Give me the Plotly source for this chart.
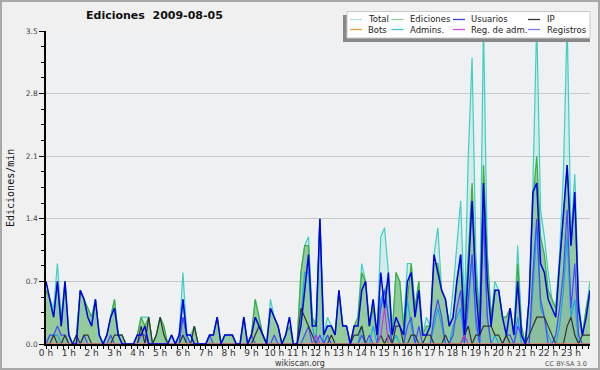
import plotly.graph_objects as go

# ---- data: 10-minute bins, edits per minute ----
total = [.7,.5,.4,.9,.3,.7,.1,0,.1,.6,
         .5,.4,.3,.5,.1,0,.1,.3,.5,.1,
         .1,0,0,0,.1,.3,.3,.3,0,.1,
         .3,.2,0,.1,0,.1,.8,.1,.1,.2,
         0,0,0,.1,.1,.3,0,.1,.1,.1,
         0,0,.3,0,.1,.5,.3,.1,0,.5,
         .3,.2,0,.1,.3,0,0,.8,1.1,1.2,
         .3,.2,1.4,.1,.3,.2,.1,.6,.2,.2,
         0,.2,.3,.9,.7,.2,.5,.1,1.2,1.3,
         .8,.1,.8,.7,.2,.9,.9,.4,.7,.1,
         .3,.2,1.0,1.3,.6,.5,.2,.6,1.1,1.6,
         .4,2.1,3.2,1.0,.3,3.6,1.0,.3,.7,.6,
         .3,.3,.4,.1,1.1,.2,0,.5,1.8,3.6,
         1.5,1.2,.8,.5,.4,1.0,1.9,3.6,1.2,1.9,
         .5,.1,.4,.7]
ediciones = [.6,.5,.3,.7,.2,.7,.1,0,.1,.6,
             .5,.4,.3,.5,.1,0,.1,.3,.5,.1,
             .1,0,0,0,.1,.3,.2,.3,0,.1,
             .3,.2,0,0,0,.1,.3,.1,0,.2,
             0,0,0,.1,.1,.3,0,.1,.1,.1,
             0,0,.3,0,.1,.5,.3,.1,0,.4,
             .3,.2,0,.1,.2,0,0,.8,1.1,1.1,
             .3,.2,1.4,.1,.2,.2,.1,.6,.2,.2,
             0,.2,.3,.8,.7,.2,.4,.1,.5,.6,
             .7,.1,.8,.7,.2,.5,.9,.4,.7,.1,
             .2,.2,.9,.9,.6,.5,.2,.3,.7,1.0,
             .3,1.0,1.8,.8,.3,2.0,1.0,.3,.6,.6,
             .3,.3,.4,.1,.9,.2,0,.5,1.6,2.1,
             1.2,1.0,.6,.5,.4,.9,1.4,2.0,1.1,1.6,
             .4,.1,.4,.6]
usuarios = [.7,.5,.3,.7,.2,.7,.1,0,0,.6,
            .5,.3,.2,.5,.1,0,.1,.3,.4,.1,
            0,0,0,0,.1,.1,.2,0,0,0,
            0,0,0,.1,0,.1,.5,.1,.1,0,
            0,0,0,.1,.1,.3,0,.1,.1,.1,
            0,0,.3,0,.1,.3,.2,.1,0,.4,
            .3,.2,0,.1,.3,0,0,.2,.6,1.0,
            .2,.2,1.4,.1,.2,.2,.1,.6,.2,.2,
            0,.2,.2,.6,.7,.2,.5,.1,.8,.4,
            .8,.1,.3,.2,.1,.7,.8,.3,.6,.1,
            .1,.2,1.0,.8,.6,.5,.2,.3,.7,1.0,
            .1,.8,1.6,.6,.1,1.8,.7,.2,.6,.6,
            .3,.1,.4,.1,.7,.1,0,.5,1.7,1.8,
            .9,.8,.5,.4,.3,.9,1.5,2.0,1.1,1.7,
            .4,.1,.3,.6]
ip = [0,0,.1,0,0,.1,0,0,.1,0,
      .1,.1,0,0,0,0,0,0,.1,.1,
      .1,0,0,0,0,.2,0,.3,0,.1,
      .3,.1,0,0,0,0,.1,0,0,.2,
      0,0,0,0,0,0,0,0,0,0,
      0,0,0,0,0,.1,.2,.1,0,0,
      0,0,0,0,0,0,0,.4,.3,.2,
      .1,0,0,0,0,.1,0,0,0,0,
      0,.1,.1,.2,0,0,0,0,.1,0,
      .1,0,.2,.2,0,0,.1,.1,0,0,
      .1,.1,0,0,0,.1,0,0,0,0,
      .1,.2,0,.1,.1,.2,.2,.2,.1,.1,
      0,.1,0,0,0,0,0,.1,.2,.3,
      .3,.3,.2,.1,0,0,0,.2,.3,.1,
      0,.1,.1,.1]
bots = [0] * 144
admins = [0,.1,.1,.1,0,0,0,0,0,0,
          0,0,0,0,0,0,0,0,0,0,
          0,0,0,0,0,0,0,0,0,0,
          0,0,0,0,0,0,.5,0,0,0,
          0,0,0,0,0,0,0,0,0,0,
          0,0,0,0,0,0,0,0,0,0,
          0,0,0,0,0,0,0,.3,.8,.8,
          .2,0,1.4,0,.1,0,0,0,0,0,
          0,0,0,.2,0,0,.2,0,.5,.6,
          .3,0,.1,0,0,.5,.2,0,0,0,
          0,0,.2,.4,.2,0,0,.2,.3,.4,
          0,.4,1.0,.2,0,1.5,.3,0,.1,0,
          0,0,0,0,.3,0,0,0,.6,1.3,
          .4,.3,.1,0,0,.2,.6,1.2,.3,.5,
          0,0,0,0]
reg_adm = [0] * 71 + [.1] + [0] * 16 + [.1, .4] + [0] * 20 + [.1] + [0] * 33
registros = [0,.1,.1,.2,.1,.1,0,0,0,0,
             .1,0,0,0,0,0,0,.1,0,0,
             0,0,0,0,0,.1,.1,0,0,0,
             0,0,0,.1,0,0,.3,.1,0,0,
             0,0,0,.1,0,0,0,0,0,0,
             0,0,0,0,.1,0,0,0,0,0,
             .1,0,0,0,0,0,0,0,.1,.2,
             0,0,.1,0,.1,0,0,0,0,0,
             0,0,0,.1,0,.1,0,0,.4,.6,
             .3,0,0,0,0,.2,.3,0,.2,0,
             0,0,.3,.5,.3,0,0,.1,.4,.6,
             0,.5,1.0,.3,0,1.4,.3,0,0,0,
             0,.1,.1,0,.2,.1,0,0,.8,1.4,
             .5,.3,0,0,.1,.4,.8,1.5,.4,.9,
             .1,0,0,0]
hour_labels = [f"{h} h" for h in range(24)]
y_ticks = [0, 0.7, 1.4, 2.1, 2.8, 3.5]
y_tick_labels = ["0.0", "0.7", "1.4", "2.1", "2.8", "3.5"]
legend_rows = [["Total", "Ediciones", "Usuarios", "IP"],
               ["Bots", "Admins.", "Reg. de adm.", "Registros"]]

times = [i / 6 for i in range(len(total))]

# ---- pixel helpers (plot area 46..590 x 31..344) ----
L, R, T, B = 46, 590, 31, 344
def px(x):
    return (x - L) / (R - L)
def py(y):
    return (B - y) / (B - T)

line_colors = {
    "Total": "#3fcfc4", "Ediciones": "#3cae3c", "Usuarios": "#0000e8",
    "IP": "#333333", "Bots": "#ff9a30", "Admins.": "#1aa8e0",
    "Reg. de adm.": "#c838d8", "Registros": "#4848ff",
}
legend_colors = {
    "Total": "#b0e4e2", "Ediciones": "#8cd48c", "Usuarios": "#3c3cdc",
    "IP": "#333333", "Bots": "#f0a040", "Admins.": "#40c8d8",
    "Reg. de adm.": "#c850d8", "Registros": "#7c7cf0",
}
series = {
    "Total": total, "Ediciones": ediciones, "Usuarios": usuarios, "IP": ip,
    "Bots": bots, "Admins.": admins, "Reg. de adm.": reg_adm, "Registros": registros,
}

fig = go.Figure()

# fills first
fills = [("Total", "rgba(60,205,190,0.15)"),
         ("Ediciones", "rgba(70,165,60,0.45)"),
         ("Registros", "rgba(70,70,200,0.10)")]
for name, fc in fills:
    fig.add_trace(go.Scatter(x=times, y=series[name], mode="lines",
                             line=dict(width=0), fill="tozeroy", fillcolor=fc,
                             hoverinfo="skip", showlegend=False))

order = ["Total", "Ediciones", "Admins.", "Registros", "IP", "Reg. de adm.",
         "Bots", "Usuarios"]
widths = {"Usuarios": 1.5}
for name in order:
    fig.add_trace(go.Scatter(x=times, y=series[name], mode="lines", name=name,
                             line=dict(color=line_colors[name],
                                       width=widths.get(name, 1.2)),
                             showlegend=False))

shapes = []
annotations = []

# frame border
shapes.append(dict(type="rect", xref="paper", yref="paper",
                   x0=px(1), x1=px(599), y0=py(369), y1=py(1),
                   line=dict(color="#a8a8a8", width=2), layer="above"))
# legend box + shadow
shapes.append(dict(type="rect", xref="paper", yref="paper",
                   x0=px(343), x1=px(590), y0=py(42), y1=py(15),
                   fillcolor="#888888", line=dict(width=0), layer="above"))
shapes.append(dict(type="rect", xref="paper", yref="paper",
                   x0=px(347), x1=px(590), y0=py(38), y1=py(11.5),
                   fillcolor="white", line=dict(color="#c8c8c8", width=1),
                   layer="above"))
col_line_x = [350, 391.5, 453, 528]
col_text_x = [366, 408, 469, 545]
row_y = [19.5, 29.5]
for r, row in enumerate(legend_rows):
    for c, name in enumerate(row):
        shapes.append(dict(type="line", xref="paper", yref="paper",
                           x0=px(col_line_x[c]), x1=px(col_line_x[c] + 12),
                           y0=py(row_y[r]), y1=py(row_y[r]),
                           line=dict(color=legend_colors[name], width=1.3),
                           layer="above"))
        annotations.append(dict(text=name, xref="paper", yref="paper",
                                x=px(col_text_x[c]), y=py(row_y[r]),
                                xanchor="left", yanchor="middle", showarrow=False,
                                font=dict(family="DejaVu Sans", size=8.5,
                                          color="#222222")))

# title
annotations.append(dict(text="<b>Ediciones\u00a0\u00a02009-08-05</b>", xref="paper",
                        yref="paper", x=px(154), y=py(16), xanchor="center",
                        yanchor="middle", showarrow=False,
                        font=dict(family="DejaVu Sans", size=11, color="#111111")))
# y axis title
annotations.append(dict(text="Ediciones/min", xref="paper", yref="paper",
                        x=px(10), y=py(188), xanchor="center", yanchor="middle",
                        textangle=-90, showarrow=False,
                        font=dict(family="DejaVu Sans Mono", size=10,
                                  color="#111111")))
# footer
annotations.append(dict(text="wikiscan.org", xref="paper", yref="paper",
                        x=px(300), y=py(363.5), xanchor="center", yanchor="middle",
                        showarrow=False,
                        font=dict(family="DejaVu Sans", size=8, color="#333333")))
annotations.append(dict(text="CC BY-SA 3.0", xref="paper", yref="paper",
                        x=px(589), y=py(363.5), xanchor="right", yanchor="middle",
                        showarrow=False,
                        font=dict(family="DejaVu Sans", size=6.5, color="#555555")))

fig.update_layout(
    width=600, height=370,
    margin=dict(l=L, r=600 - R, t=T, b=370 - B, pad=0, autoexpand=False),
    paper_bgcolor="#f0f0f0", plot_bgcolor="#eef0f2",
    showlegend=False, shapes=shapes, annotations=annotations,
    font=dict(family="DejaVu Sans", color="#333333"),
)
fig.update_xaxes(
    range=[0, times[-1]], tickmode="array", tickvals=list(range(24)),
    ticktext=hour_labels, ticks="outside", ticklen=3, tickcolor="black",
    tickfont=dict(size=9, color="#333333"), ticklabelstandoff=-4,
    showline=True, linecolor="black", linewidth=2, showgrid=False,
    zeroline=False, automargin=False,
    minor=dict(tickmode="linear", tick0=0, dtick=0.25, ticklen=3,
               tickcolor="black", ticks="outside", showgrid=False),
)
fig.update_yaxes(
    range=[0, 3.5], tickmode="array", tickvals=y_ticks, ticktext=y_tick_labels,
    ticks="outside", ticklen=5, tickcolor="black",
    tickfont=dict(size=7.5, color="#444444"),
    showline=True, linecolor="black", linewidth=1.5, showgrid=True,
    gridcolor="#c8c8c8", gridwidth=1, zeroline=False, automargin=False,
    minor=dict(tickmode="linear", tick0=0, dtick=0.175, ticklen=3,
               tickcolor="black", ticks="outside", showgrid=False),
)

fig.write_html("out.html", config={"displayModeBar": False},
               post_script="document.body.style.margin='0';"
                           "document.body.style.overflow='hidden';")
